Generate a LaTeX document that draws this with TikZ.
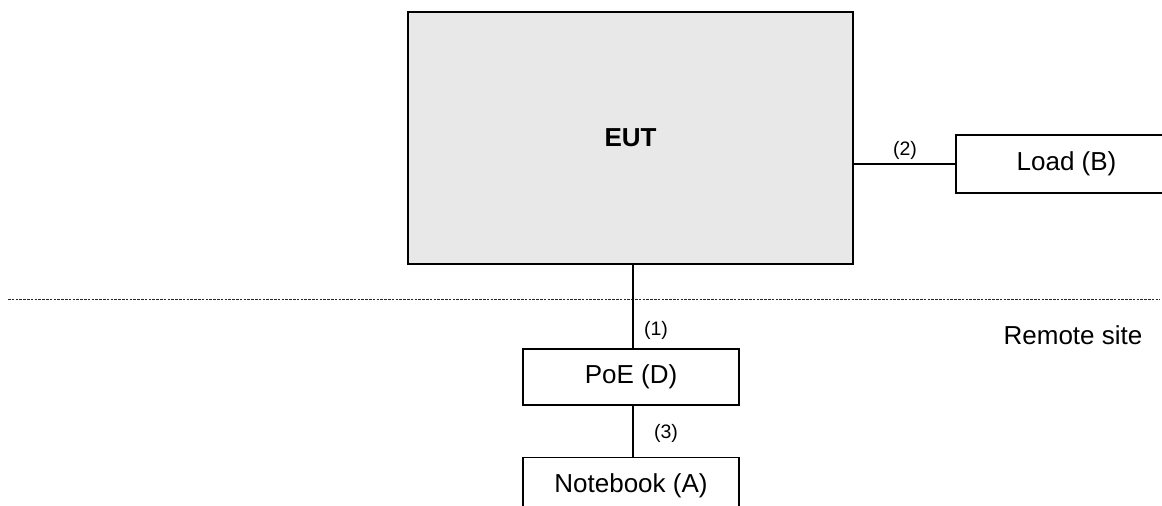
\documentclass[tikz,border=0pt]{standalone}
\usepackage{fontspec}
\setmainfont{Liberation Sans}
\begin{document}
\begin{tikzpicture}[x=1pt,y=-1pt,
  box/.style={draw=black,line width=1.8pt,inner sep=0pt,font=\fontsize{26}{30}\selectfont},
  wire/.style={draw=black,line width=1.3pt},
  lbl/.style={font=\fontsize{19.5}{23}\selectfont,inner sep=0pt},
  sep/.style={draw=black!85,line width=1pt,dash pattern=on 2.5pt off 1.3pt}]
\useasboundingbox (0,0) rectangle (1162,506);
\clip (0,0) rectangle (1162,506);
\node[box,fill=black!9,minimum width=445,minimum height=252,font=\fontsize{26}{30}\selectfont\bfseries] (eut) at (630.5,138) {EUT};
\node[box,draw=none,minimum width=219,minimum height=56] (load) at (1066.5,164) {Load (B)};
\draw[black,line width=1.8pt] (load.north west) ++(1200,0) -- (load.north west) -- (load.south west) -- ++(1200,0);
\node[box,minimum width=216,minimum height=56] (poe) at (631,377) {PoE (D)};
\node[box,minimum width=216,minimum height=56] (nb) at (631,485.5) {Notebook (A)};
\coordinate (sepL) at (8,299);
\coordinate (sepR) at (1160,299);
\draw[sep] (sepL) -- (sepR);
\draw[wire] (eut.east |- load.west) -- (load.west);
\draw[wire] (poe.north -| 633,0) -- (eut.south -| 633,0);
\draw[wire] (nb.north -| 633,0) -- (poe.south -| 633,0);
\node[lbl] (l2) at (905,150) {(2)};
\node[lbl] (l1) at (656,330) {(1)};
\node[lbl] (l3) at (666,433) {(3)};
\node[font=\fontsize{26}{30}\selectfont,inner sep=0pt] (remote) at (1073,335) {Remote site};
\end{tikzpicture}
\end{document}
